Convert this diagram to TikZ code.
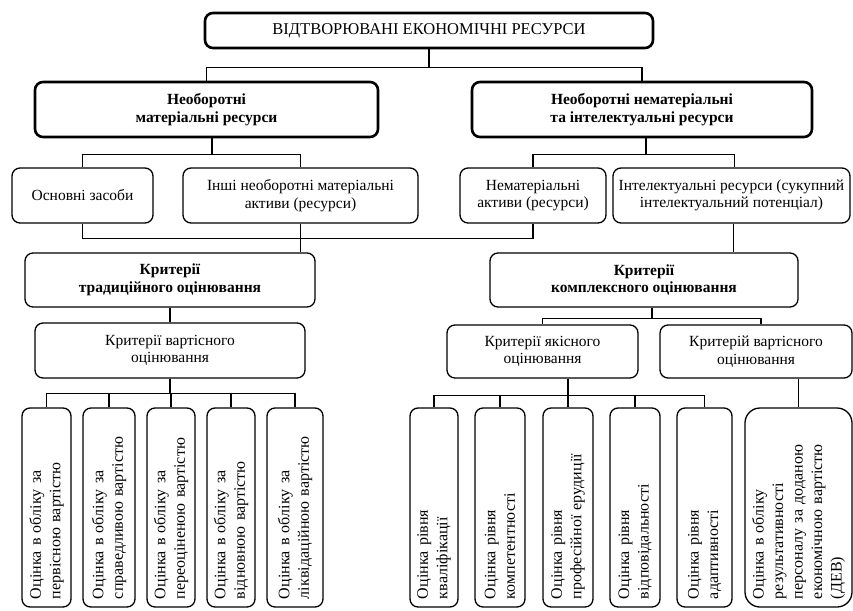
\documentclass[tikz,border=0pt]{standalone}
\usepackage{fontspec}
\setmainfont{Liberation Serif}
\tikzset{
    box/.style={draw, rounded corners=8pt, line width=1.3pt, align=center, inner sep=2pt, font=\fontsize{15.5}{17.5}\selectfont},
    mainbox/.style={box, line width=2.6pt, font=\bfseries\fontsize{15.5}{17.5}\selectfont},
    critbox/.style={box, font=\bfseries\fontsize{15.5}{17.5}\selectfont},
    evalbox/.style={draw, rounded corners=8pt, line width=1.3pt, rotate=90, align=left, inner xsep=8pt, inner ysep=2pt, text width=183pt, font=\fontsize{16}{19.5}\selectfont},
    link/.style={line width=1.2pt}
}
\begin{document}
\begin{tikzpicture}[x=1pt, y=-1pt]
    \useasboundingbox (0,0) rectangle (853,610);

    %top levels
    \node[mainbox, minimum width=448pt, minimum height=35pt, font=\fontsize{16.5}{18}\selectfont] (top) at (429,30.5) {ВІДТВОРЮВАНІ ЕКОНОМІЧНІ РЕСУРСИ};
    \node[mainbox, minimum width=343pt, minimum height=55pt] (mat) at (206.5,109.5) {Необоротні\\матеріальні ресурси};
    \node[mainbox, minimum width=340pt, minimum height=55pt] (nemat) at (642,109.5) {Необоротні нематеріальні\\та інтелектуальні ресурси};

    %resources
    \node[box, minimum width=141pt, minimum height=55pt] (os) at (82.5,195.5) {Основні засоби};
    \node[box, minimum width=235pt, minimum height=55pt] (inshi) at (300.5,195.5) {Інші необоротні матеріальні\\активи (ресурси)};
    \node[box, minimum width=146pt, minimum height=55pt] (nma) at (533,195.5) {Нематеріальні\\активи (ресурси)};
    \node[box, minimum width=237pt, minimum height=55pt] (intel) at (731.5,195.5) {Інтелектуальні ресурси (сукупний\\інтелектуальний потенціал)};

    %criteria
    \node[critbox, minimum width=290pt, minimum height=54pt] (trad) at (170,280) {Критерії\\традиційного оцінювання};
    \node[critbox, minimum width=308pt, minimum height=54pt] (kompl) at (644,280) {Критерії\\комплексного оцінювання};
    \node[box, minimum width=270pt, minimum height=55pt] (vart1) at (170,350.5) {Критерії вартісного\\оцінювання};
    \node[box, minimum width=191pt, minimum height=53pt] (yak) at (542.5,351.5) {Критерії якісного\\оцінювання};
    \node[box, minimum width=192pt, minimum height=53pt] (vart2) at (756,351.5) {Критерій вартісного\\оцінювання};

    %evaluations (rotated, east = top)
    \foreach \n/\x/\w/\t in {l1/46.5/49/{первісною вартістю}, l2/109/52/{справедливою вартістю},
        l3/171/48/{переоціненою вартістю}, l4/231/48/{відновною вартістю}, l5/295/56/{ліквідаційною вартістю}}
        \node[evalbox, minimum height=\w] (\n) at (\x,507.5) {Оцінка в обліку за\\\t};
    \foreach \n/\x/\w/\t in {r1/434/48/кваліфікації, r2/500/50/компетентності, r3/568/50/{професійної ерудиції},
        r4/635/50/відповідальності, r5/704.5/55/адаптивності}
        \node[evalbox, minimum height=\w] (\n) at (\x,507.5) {Оцінка рівня\\\t};
    \node[evalbox, minimum height=107, rounded corners=15pt] (r6) at (798.5,507.5) {Оцінка в обліку\\результативності\\персоналу за доданою\\економічною вартістю\\(ДЕВ)};

    %connectors
    \draw[link] (top.south) -- ++(0,18.5) -| (mat.north);
    \draw[link] (top.south) -- ++(0,18.5) -| (nemat.north);
    \draw[link] ([xshift=5.5pt]mat.south) -- ++(0,16.5) -| (os.north);
    \draw[link] ([xshift=5.5pt]mat.south) -- ++(0,16.5) -| (inshi.north);
    \draw[link] ([xshift=4pt]nemat.south) -- ++(0,16.5) -| (nma.north);
    \draw[link] ([xshift=4pt]nemat.south) -- ++(0,16.5) -| ([xshift=3pt]intel.north);
    \draw[link] (os.south) -- ++(0,15) -| (nma.south);
    \draw[link] (inshi.south) -- (inshi.south |- trad.north);
    \draw[link] ([xshift=2pt]intel.south) -- ([xshift=2pt]intel.south |- kompl.north);
    \draw[link] (trad.south) -- (vart1.north);
    \draw[link] ([xshift=8pt]kompl.south) -- ++(0,11) -| (yak.north);
    \draw[link] ([xshift=8pt]kompl.south) -- ++(0,11) -| ([xshift=5pt]vart2.north);
    \foreach \i in {1,...,5}
        \draw[link] (vart1.south) -- ++(0,15) -| (l\i.east);
    \foreach \i in {1,...,5}
        \draw[link] (yak.south -| r3.east) -- ++(0,17) -| (r\i.east);
    \draw[link] (vart2.south -| r6.east) -- (r6.east);
\end{tikzpicture}
\end{document}
